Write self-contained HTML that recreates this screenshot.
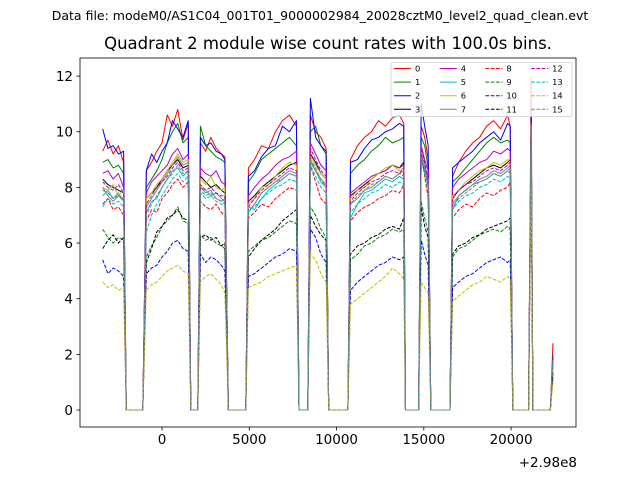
<!DOCTYPE html>
<html><head><meta charset="utf-8">
<style>
body{margin:0;background:#fff;}
svg text{font-family:"DejaVu Sans","Liberation Sans",sans-serif;fill:#000;}
</style></head>
<body>
<svg id="chart" width="640" height="480" viewBox="0 0 640 480" xmlns="http://www.w3.org/2000/svg">
<rect x="0" y="0" width="640" height="480" fill="#fff"/>
<text x="320" y="20" font-size="12.5" text-anchor="middle">Data file: modeM0/AS1C04_001T01_9000002984_20028cztM0_level2_quad_clean.evt</text>
<text x="328" y="49" font-size="16.5" text-anchor="middle">Quadrant 2 module wise count rates with 100.0s bins.</text>
<g id="plot"></g>
<g id="axes"></g>
<g id="legend"></g>
<text x="577" y="467" font-size="13.5" text-anchor="end">+2.98e8</text>
</svg>
<script>
const times=[-3400,-3100,-2800,-2500,-2200,-2050,-1100,
-900,-600,-300,0,300,600,900,1200,1500,1650,2050,
2200,2500,2800,3100,3400,3600,3800,4800,
4950,5300,5700,6100,6500,6900,7300,7700,7850,8350,
8500,8800,9100,9400,9550,10650,
10800,11200,11600,12000,12400,12800,13200,13600,13850,13950,14700,
14850,15050,15250,15400,16500,
16650,17000,17400,17800,18200,18600,19000,19400,19800,19950,20100,21000,
21150,21250,22250,22400];
const s0=[9.3,9.7,9.2,9.5,8.9,0,0, 8.6,8.9,9.3,9.6,10.6,10.2,10.8,9.7,10.3,0,0, 9.6,9.3,9.8,9.4,9.2,9.1,0,0, 8.7,9.0,9.5,9.4,10.0,10.4,10.6,10.2,0,0, 10.6,10.0,9.8,9.4,0,0, 9.0,9.5,9.8,10.0,10.4,10.2,10.5,10.6,10.3,0,0, 10.2,9.8,9.0,0,0, 8.4,8.9,9.3,9.6,9.8,10.2,10.4,10.1,10.6,10.2,0,0, 12.0,0,0, 2.4];
const s1=[8.9,9.0,8.7,8.8,8.5,0,0, 8.0,8.3,8.6,9.0,9.6,10.0,10.3,9.6,9.8,0,0, 10.2,9.5,9.3,9.1,9.0,8.9,0,0, 8.2,8.5,9.0,9.2,9.4,9.6,9.8,9.5,0,0, 10.0,10.2,9.5,9.2,0,0, 8.5,8.8,9.0,9.3,9.5,9.8,9.6,9.7,9.8,0,0, 9.8,9.5,8.7,0,0, 8.2,8.4,8.7,9.0,9.3,9.6,9.8,9.6,9.7,9.6,0,0, 10.5,0,0, 2.0];
const s2=[10.1,9.4,9.5,9.2,9.3,0,0, 8.6,9.2,8.9,9.3,9.6,10.4,10.1,9.8,10.4,0,0, 9.8,9.5,9.6,9.3,9.2,9.0,0,0, 8.4,8.6,9.1,9.4,9.5,10.2,10.0,10.4,0,0, 11.2,9.8,9.5,9.3,0,0, 8.9,9.0,9.4,9.7,9.8,10.0,10.1,10.3,10.2,0,0, 11.0,10.2,9.5,0,0, 8.7,8.9,9.1,9.3,9.6,9.8,10.0,9.7,10.3,10.2,0,0, 10.6,0,0, 1.9];
const s3=[8.3,8.1,8.0,7.9,7.8,0,0, 7.6,7.8,8.0,8.3,8.6,8.8,9.0,8.7,8.8,0,0, 8.4,8.2,8.0,8.1,7.9,7.8,0,0, 7.5,7.7,8.0,8.2,8.4,8.6,8.8,8.9,0,0, 9.2,8.9,8.5,8.3,0,0, 7.7,7.9,8.1,8.3,8.5,8.6,8.8,8.7,8.9,0,0, 9.0,8.6,8.2,0,0, 7.6,7.9,8.1,8.3,8.5,8.7,8.8,8.7,8.9,9.0,0,0, 10.4,0,0, 1.8];
const s4=[8.5,8.6,8.3,8.5,8.0,0,0, 7.8,8.2,8.4,8.6,8.8,9.2,9.4,9.0,9.2,0,0, 8.7,8.5,8.4,8.6,8.2,8.1,0,0, 7.7,8.0,8.3,8.5,8.8,9.0,9.1,9.3,0,0, 9.6,9.2,8.8,8.6,0,0, 7.8,8.0,8.2,8.4,8.5,8.6,8.8,8.7,8.8,0,0, 9.5,9.0,8.6,0,0, 8.0,8.3,8.5,8.7,8.9,9.0,9.3,9.2,9.4,9.3,0,0, 10.3,0,0, 1.9];
const s5=[7.7,7.9,7.6,7.8,7.5,0,0, 7.1,7.5,7.6,8.0,8.3,8.6,8.7,8.4,8.6,0,0, 8.0,7.8,7.9,7.6,7.5,7.6,0,0, 7.3,7.2,7.6,7.9,8.1,8.3,8.5,8.4,0,0, 9.0,8.6,8.2,8.0,0,0, 6.9,7.4,7.8,7.9,8.1,8.3,8.2,8.4,8.3,0,0, 9.0,8.7,8.0,0,0, 7.2,7.7,7.9,8.1,8.2,8.3,8.5,8.4,8.6,8.5,0,0, 10.2,0,0, 1.7];
const s6=[8.0,7.9,8.1,7.7,7.9,0,0, 7.6,7.8,8.1,8.3,8.6,8.9,9.2,8.9,9.0,0,0, 8.3,8.1,8.4,8.0,7.9,8.0,0,0, 7.4,7.6,8.0,8.1,8.4,8.7,8.9,8.8,0,0, 9.1,8.8,8.5,8.3,0,0, 7.6,7.9,8.0,8.3,8.5,8.7,8.8,8.6,8.7,0,0, 9.3,8.8,8.3,0,0, 7.7,7.9,8.2,8.4,8.6,8.7,8.9,8.8,9.0,8.9,0,0, 10.3,0,0, 1.8];
const s7=[8.0,7.7,7.5,7.7,7.6,0,0, 7.3,7.6,7.9,8.2,8.5,8.8,9.1,8.8,8.9,0,0, 8.0,7.9,7.7,7.8,7.6,7.5,0,0, 7.1,7.4,7.8,8.0,8.2,8.4,8.6,8.5,0,0, 8.9,8.6,8.3,8.1,0,0, 7.4,7.6,7.9,8.0,8.2,8.4,8.3,8.5,8.6,0,0, 9.2,8.8,8.2,0,0, 7.4,7.7,7.9,8.1,8.3,8.4,8.6,8.5,8.7,8.8,0,0, 10.2,0,0, 1.8];
const s8=[7.4,7.6,7.2,7.3,7.0,0,0, 6.8,7.2,7.1,7.6,7.8,8.1,8.3,8.0,8.2,0,0, 7.5,7.3,7.2,7.4,7.1,7.0,0,0, 6.9,7.1,7.4,7.3,7.6,7.8,8.0,7.9,0,0, 8.8,8.2,7.6,7.4,0,0, 6.8,7.1,7.3,7.4,7.6,7.7,7.9,7.8,8.1,0,0, 9.2,8.4,7.6,0,0, 6.9,7.2,7.4,7.3,7.6,7.8,7.7,7.9,8.0,8.2,0,0, 10.0,0,0, 1.6];
const s9=[6.5,6.2,6.0,6.2,6.1,0,0, 5.5,5.9,6.2,6.6,6.8,7.0,7.3,6.8,6.7,0,0, 6.3,6.1,6.2,6.0,5.9,5.8,0,0, 5.7,5.9,6.1,6.2,6.4,6.6,6.8,6.7,0,0, 7.3,7.0,6.5,6.2,0,0, 5.4,5.6,5.9,6.0,6.2,6.3,6.5,6.4,6.5,0,0, 7.5,6.9,6.4,0,0, 5.5,5.8,5.9,6.1,6.3,6.4,6.5,6.4,6.6,6.5,0,0, 9.5,0,0, 1.4];
const s10=[5.4,4.9,5.1,5.0,4.8,0,0, 4.9,5.1,5.2,5.5,5.7,6.0,6.1,5.8,5.7,0,0, 5.6,5.3,5.5,5.4,5.2,5.0,0,0, 4.8,4.9,5.1,5.3,5.5,5.6,5.8,5.7,0,0, 6.5,6.2,5.6,5.3,0,0, 4.3,4.6,4.8,5.0,5.2,5.3,5.5,5.4,5.5,0,0, 6.1,5.6,5.2,0,0, 4.4,4.6,4.8,4.9,5.1,5.3,5.4,5.5,5.3,5.4,0,0, 8.5,0,0, 1.2];
const s11=[5.8,6.1,6.3,6.0,6.2,0,0, 5.3,5.8,6.4,6.6,6.9,7.0,7.2,6.9,6.8,0,0, 6.2,6.3,6.1,6.2,5.9,6.0,0,0, 5.5,5.8,6.1,6.3,6.5,6.8,7.0,7.2,0,0, 7.0,6.6,6.3,6.1,0,0, 5.6,5.9,6.0,6.2,6.3,6.5,6.6,6.5,6.9,0,0, 7.3,6.6,6.2,0,0, 5.6,5.9,6.0,6.2,6.3,6.5,6.6,6.7,6.8,6.9,0,0, 9.0,0,0, 1.3];
const s12=[8.2,8.0,7.9,8.1,7.8,0,0, 7.4,7.7,8.0,8.2,8.4,8.7,8.9,8.6,8.7,0,0, 8.1,7.9,8.0,7.8,7.7,7.7,0,0, 7.3,7.6,7.9,8.1,8.3,8.5,8.7,8.6,0,0, 9.4,9.0,8.6,8.4,0,0, 7.5,7.8,8.0,8.2,8.3,8.5,8.6,8.5,8.7,0,0, 9.4,8.9,8.3,0,0, 7.6,7.9,8.1,8.2,8.4,8.6,8.7,8.6,8.8,8.9,0,0, 10.4,0,0, 1.9];
const s13=[7.3,7.6,7.4,7.5,7.3,0,0, 6.4,7.0,7.4,7.7,8.0,8.3,8.5,8.2,8.4,0,0, 7.8,7.6,7.7,7.5,7.4,7.3,0,0, 7.2,7.3,7.6,7.8,8.0,8.1,8.3,8.2,0,0, 8.8,8.4,8.0,7.8,0,0, 7.1,7.4,7.6,7.8,7.9,8.1,8.0,8.2,8.1,0,0, 8.9,8.5,7.9,0,0, 7.2,7.5,7.7,7.8,8.0,8.1,8.3,8.2,8.4,8.3,0,0, 10.1,0,0, 1.7];
const s14=[4.6,4.4,4.5,4.3,4.4,0,0, 4.3,4.5,4.6,4.8,5.0,5.1,5.2,5.0,4.9,0,0, 4.6,4.8,4.9,4.7,4.5,4.2,0,0, 4.4,4.5,4.6,4.8,4.9,5.0,5.1,5.2,0,0, 5.6,5.4,4.9,4.6,0,0, 3.8,4.0,4.2,4.4,4.6,4.8,5.1,4.9,4.7,0,0, 4.6,4.4,4.2,0,0, 3.9,4.1,4.3,4.5,4.6,4.8,4.7,4.6,4.8,4.7,0,0, 8.0,0,0, 1.0];
const s15=[7.9,7.8,7.6,7.7,7.5,0,0, 7.0,7.4,7.7,8.0,8.3,8.5,8.8,8.5,8.6,0,0, 7.9,7.7,7.8,7.6,7.5,7.4,0,0, 7.1,7.4,7.8,8.0,8.2,8.3,8.5,8.4,0,0, 9.0,8.7,8.3,8.0,0,0, 7.4,7.7,7.9,8.1,8.2,8.4,8.3,8.5,8.4,0,0, 9.1,8.6,8.1,0,0, 7.3,7.6,7.8,8.0,8.2,8.3,8.5,8.4,8.6,8.7,0,0, 10.2,0,0, 1.8];
const seriesNames=["0","1","2","3","4","5","6","7","8","9","10","11","12","13","14","15"];
const xTicks=[0,5000,10000,15000,20000];
const yTicks=[0,2,4,6,8,10,12];

const seriesData=[s0,s1,s2,s3,s4,s5,s6,s7,s8,s9,s10,s11,s12,s13,s14,s15];
const colors=["#ff0000","#008000","#0000ff","#000000","#bf00bf","#00bfbf","#bfbf00","#808080"];
const NS="http://www.w3.org/2000/svg";
const L=80,R=576,T=58,B=427;
const xMin=-4700,xMax=23720,yMin=-0.61,yMax=12.65;
function sx(t){return L+(t-xMin)/(xMax-xMin)*(R-L);}
function sy(v){return B-(v-yMin)/(yMax-yMin)*(B-T);}
function mk(tag,attrs,parent){const e=document.createElementNS(NS,tag);for(const k in attrs)e.setAttribute(k,attrs[k]);parent.appendChild(e);return e;}
const plot=document.getElementById('plot');
const axes=document.getElementById('axes');
const legend=document.getElementById('legend');
const defs=mk('defs',{},plot);
const cp=mk('clipPath',{id:'clip'},defs);
mk('rect',{x:L,y:T,width:R-L,height:B-T},cp);
const g=mk('g',{'clip-path':'url(#clip)'},plot);
seriesData.forEach((arr,i)=>{
  const d=arr.map((v,j)=>(j?'L':'M')+sx(times[j]).toFixed(2)+','+sy(v).toFixed(2)).join('');
  const p=mk('path',{d:d,fill:'none',stroke:colors[i%8],'stroke-width':1,'stroke-linejoin':'round'},g);
  if(i>=8)p.setAttribute('stroke-dasharray','3.7,1.6');
  
  
});
const frame=mk('rect',{x:L,y:T,width:R-L,height:B-T,fill:'none',stroke:'#000','stroke-width':0.8},axes);


xTicks.forEach(t=>{
  const x=sx(t);
  const tk=mk('line',{x1:x,x2:x,y1:B,y2:B+3.5,stroke:'#000','stroke-width':0.8},axes);
  
  
  const tx=mk('text',{x:x,y:B+17,'font-size':13.5,'text-anchor':'middle'},axes);
  tx.textContent=t;
  
  
});
yTicks.forEach(v=>{
  const y=sy(v);
  const tk=mk('line',{x1:L-3.5,x2:L,y1:y,y2:y,stroke:'#000','stroke-width':0.8},axes);
  
  
  const tx=mk('text',{x:L-7,y:y+5,'font-size':13.5,'text-anchor':'end'},axes);
  tx.textContent=v;
  
  
});
const lb=mk('rect',{x:391,y:62.5,width:181,height:54,rx:2,fill:'#fff','fill-opacity':0.8,stroke:'#cccccc','stroke-width':0.8},legend);


seriesNames.forEach((n,i)=>{
  const col=Math.floor(i/4),row=i%4;
  const x0=394+col*45.7,y0=68.5+row*13.6;
  const eg=mk('g',{},legend);
  
  
  const ln=mk('line',{x1:x0,x2:x0+17,y1:y0,y2:y0,stroke:colors[i%8],'stroke-width':1},eg);
  if(i>=8)ln.setAttribute('stroke-dasharray','3.7,1.6');
  const t=mk('text',{x:x0+21,y:y0+3,'font-size':8.3},eg);
  t.textContent=n;
});
</script>
</body></html>
